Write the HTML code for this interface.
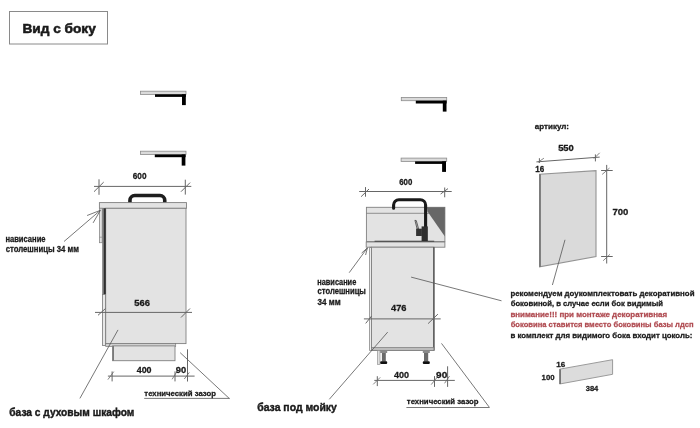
<!DOCTYPE html>
<html><head><meta charset="utf-8">
<style>
html,body{margin:0;padding:0;background:#fff;width:700px;height:428px;overflow:hidden}
svg{display:block;will-change:transform}
text{font-family:"Liberation Sans",sans-serif;font-weight:bold;fill:#1a1a1a;stroke:#1a1a1a;stroke-width:0.28}
.ln{stroke:#555;stroke-width:0.8;fill:none}
.dim{stroke:#666;stroke-width:1;fill:none}
.sl{stroke:#666;stroke-width:0.8;fill:none}
.box{fill:#e3e3e3;stroke:#808080;stroke-width:0.9}
.blk{fill:#000}
.red{fill:#b04c52;stroke:#b04c52}
.ttl{stroke-width:0.55}
.ttl2{stroke-width:0.4}
</style></head>
<body>
<svg width="700" height="428" viewBox="0 0 700 428">
<!-- title -->
<rect x="9.5" y="11.5" width="98" height="32.5" fill="#fff" stroke="#8a8a8a" stroke-width="1"/>

<!-- left shelves -->
<g id="shelf1">
<rect x="140.5" y="91.2" width="45.5" height="3.2" fill="#dadada" stroke="#8c8c8c" stroke-width="0.8"/>
<rect x="155" y="94.3" width="30.8" height="2.6" class="blk"/>
<rect x="182" y="94.3" width="3.8" height="10.8" class="blk"/>
</g>
<rect x="140.5" y="151.2" width="45.5" height="3.3" fill="#dadada" stroke="#8c8c8c" stroke-width="0.8"/>
<rect x="154.8" y="154.5" width="30.8" height="2.7" class="blk"/>
<rect x="181.7" y="154.5" width="3.7" height="11.1" class="blk"/>

<!-- middle shelves -->
<rect x="401.3" y="97.4" width="45.4" height="3.3" fill="#dadada" stroke="#8c8c8c" stroke-width="0.8"/>
<rect x="415.8" y="100.7" width="30.8" height="2.8" class="blk"/>
<rect x="442.8" y="100.7" width="3.7" height="10.9" class="blk"/>
<rect x="401.1" y="158.1" width="45.6" height="3.3" fill="#dadada" stroke="#8c8c8c" stroke-width="0.8"/>
<rect x="415.1" y="161.4" width="30.9" height="2.5" class="blk"/>
<rect x="442.1" y="161.4" width="3.9" height="10.5" class="blk"/>

<!-- ========== LEFT CABINET ========== -->
<!-- dim 600 -->
<line x1="94" y1="186.4" x2="191.3" y2="186.4" class="dim"/>
<line x1="99" y1="179.3" x2="99" y2="194.8" class="dim"/>
<line x1="94" y1="191.7" x2="103.7" y2="182.1" class="dim"/>
<line x1="185.3" y1="179.7" x2="185.3" y2="194.6" class="dim"/>
<line x1="181" y1="191.7" x2="190.1" y2="182.6" class="dim"/>
<!-- handle -->
<path d="M129.95,203 V200.3 A4.75,4.75 0 0 1 134.7,195.55 H160 A4.75,4.75 0 0 1 164.75,200.3 V203" fill="none" stroke="#1e1e1e" stroke-width="3.6"/>
<!-- countertop -->
<rect x="99.4" y="202.6" width="87.1" height="5.7" class="box"/>
<!-- front panel -->
<rect x="99.4" y="208.3" width="2.8" height="34.4" fill="#e2e2e2" stroke="#8a8a8a" stroke-width="0.8"/>
<line x1="99.4" y1="237.2" x2="102.2" y2="237.2" stroke="#8a8a8a" stroke-width="0.7"/>
<!-- body -->
<rect x="105.7" y="208.3" width="80.3" height="135.3" class="box"/>
<rect x="102.2" y="208.3" width="1.6" height="86.2" fill="#7a7a7a"/>
<rect x="103.7" y="208.3" width="2.1" height="86.2" fill="#2e2e2e"/>
<rect x="102.4" y="294.5" width="3.2" height="50.9" fill="#e8e8e8" stroke="#7a7a7a" stroke-width="0.8"/>
<!-- bottom strip and plinth -->
<rect x="105.7" y="343.6" width="70" height="2.8" fill="#d0d0d0" stroke="#7a7a7a" stroke-width="0.7"/>
<rect x="112.6" y="345.9" width="62.4" height="14.8" class="box"/>
<line x1="113.3" y1="346" x2="113.3" y2="360.7" stroke="#7a7a7a" stroke-width="1.4"/>
<!-- dim 566 -->
<line x1="95" y1="312.4" x2="192" y2="312.4" class="dim"/>
<line x1="98" y1="315.3" x2="105.5" y2="308.5" class="dim"/>
<line x1="181" y1="317.5" x2="190" y2="308.5" class="dim"/>
<!-- dim 400 90 -->
<line x1="107.9" y1="376.1" x2="194.6" y2="376.1" class="dim"/>
<line x1="112.1" y1="371.4" x2="112.1" y2="381.4" class="dim"/>
<line x1="107.9" y1="379.6" x2="113.8" y2="371.6" class="sl"/>
<line x1="175" y1="371.4" x2="175" y2="381.4" class="dim"/>
<line x1="172.1" y1="379.3" x2="176.6" y2="372.1" class="sl"/>
<line x1="187.5" y1="349.3" x2="187.5" y2="381.5" class="dim"/>
<line x1="184.3" y1="379" x2="189.3" y2="372.4" class="sl"/>
<!-- tech gap -->
<line x1="180.2" y1="352.7" x2="229.2" y2="398.4" class="ln"/>
<line x1="144.2" y1="398.4" x2="229.8" y2="398.4" class="ln"/>
<!-- overhang leader -->
<line x1="64" y1="241.5" x2="100.4" y2="210.3" class="ln"/>
<line x1="87.1" y1="215.5" x2="100.4" y2="210.3" class="ln"/>
<line x1="93.1" y1="222.9" x2="100.4" y2="210.3" class="ln"/>
<!-- base leader -->
<line x1="79.9" y1="398.4" x2="118" y2="329.9" class="ln"/>

<!-- ========== MIDDLE CABINET ========== -->
<!-- dim 600 -->
<line x1="359.2" y1="191.5" x2="451.7" y2="191.5" class="dim"/>
<line x1="365.5" y1="187.1" x2="365.5" y2="196.7" class="dim"/>
<line x1="361.1" y1="196.7" x2="369" y2="189" class="dim"/>
<line x1="444.7" y1="187.5" x2="444.7" y2="197.3" class="dim"/>
<line x1="440.6" y1="194" x2="448" y2="188.6" class="dim"/>
<!-- upper box (sink/backsplash) -->
<rect x="366.4" y="207.3" width="78.5" height="34.2" class="box"/>
<line x1="366.4" y1="213.3" x2="444.9" y2="213.3" stroke="#7a7a7a" stroke-width="0.8"/>
<polygon points="427,207.3 444.9,207.3 444.9,236.5 427.5,211.5" fill="#676767"/>
<!-- faucet -->
<path d="M393.6,208.2 V205 A5.3,5.3 0 0 1 398.9,199.7 H420.3 A5.3,5.3 0 0 1 425.6,205 V241" fill="none" stroke="#1a1a1a" stroke-width="3.1" stroke-linecap="round"/>
<path d="M414.9,220.3 L416.3,220.6 L418.6,228.8 L417.2,229.2 Z" fill="#bdbdbd" stroke="#333" stroke-width="0.7"/>
<rect x="421.6" y="226.4" width="6.2" height="14.6" fill="#2e2e2e"/>
<rect x="416.1" y="228.7" width="5.8" height="7.3" fill="#333"/>
<!-- sink bottom line -->
<line x1="374.6" y1="241.4" x2="434.2" y2="241.4" stroke="#333" stroke-width="1.2"/>
<!-- countertop -->
<rect x="366.2" y="242" width="78.7" height="5.2" class="box"/>
<!-- side strip -->
<rect x="369.6" y="247.2" width="1.9" height="103.3" fill="#ececec" stroke="#8a8a8a" stroke-width="0.8"/>
<!-- body -->
<rect x="371.5" y="247.2" width="62.4" height="103.3" class="box"/>
<line x1="433.9" y1="247.2" x2="433.9" y2="350.5" stroke="#444" stroke-width="1.2"/>
<rect x="371.5" y="347.5" width="62.4" height="3" fill="#bdbdbd" stroke="#7a7a7a" stroke-width="0.7"/>
<!-- legs -->
<rect x="377.3" y="350.5" width="2.7" height="14" fill="#e0e0e0" stroke="#888" stroke-width="0.6"/>
<rect x="380.2" y="350.5" width="7" height="2.5" fill="#8a8a8a"/>
<rect x="381.9" y="353" width="3.9" height="8.6" fill="#6a6a6a"/>
<rect x="380.2" y="361.3" width="7" height="2.7" rx="1" fill="#111"/>
<rect x="422.8" y="350.5" width="7" height="2.5" fill="#8a8a8a"/>
<rect x="424" y="353" width="4.2" height="8.6" fill="#6a6a6a"/>
<rect x="422.8" y="361.3" width="7" height="2.7" rx="1" fill="#111"/>
<!-- dim 476 -->
<line x1="363.9" y1="318.9" x2="440.7" y2="318.9" class="dim"/>
<line x1="365.7" y1="323.4" x2="371.6" y2="316" class="dim"/>
<line x1="428.1" y1="323.6" x2="437.9" y2="314.1" class="dim"/>
<!-- dim 400 90 -->
<line x1="374.3" y1="380.4" x2="454.8" y2="380.4" class="dim"/>
<line x1="377.3" y1="376.2" x2="377.3" y2="386.1" class="dim"/>
<line x1="373.2" y1="384.4" x2="380.2" y2="377.4" class="sl"/>
<line x1="434.5" y1="376.1" x2="434.5" y2="386.9" class="dim"/>
<line x1="431.2" y1="384.6" x2="436.8" y2="377.7" class="sl"/>
<line x1="447.6" y1="366.3" x2="447.6" y2="386.9" class="dim"/>
<line x1="444.6" y1="383.3" x2="449.5" y2="376.1" class="sl"/>
<!-- tech gap -->
<line x1="441.5" y1="343.4" x2="489.5" y2="407.5" class="ln"/>
<line x1="406.4" y1="407.5" x2="489.3" y2="407.5" class="ln"/>
<!-- overhang leader -->
<line x1="349.2" y1="272.7" x2="367.4" y2="247.9" class="ln"/>
<line x1="361.6" y1="253.1" x2="367.4" y2="247.9" class="ln"/>
<line x1="365.6" y1="255" x2="367.4" y2="247.9" class="ln"/>
<!-- base leader -->
<line x1="329.3" y1="399.3" x2="387.7" y2="332.1" class="ln"/>
<!-- long leader -->
<line x1="411.1" y1="277.1" x2="501.5" y2="300.8" class="ln"/>

<!-- ========== RIGHT ========== -->
<line x1="536.4" y1="161.9" x2="599.7" y2="157.1" class="dim"/>
<line x1="539.4" y1="158.2" x2="539.4" y2="163" class="dim"/>
<line x1="538.2" y1="162.2" x2="543.9" y2="158.2" class="sl"/>
<line x1="595.4" y1="154.4" x2="595.4" y2="161.4" class="dim"/>
<line x1="593.8" y1="158.7" x2="599.7" y2="152.8" class="sl"/>
<polygon points="539.6,174.3 596,170.7 596,256.5 539.6,266.8" fill="#dadada" stroke="#949494" stroke-width="1.1"/>
<line x1="540.1" y1="174.3" x2="540.1" y2="266.8" stroke="#666" stroke-width="1.3"/>
<line x1="606.7" y1="164.9" x2="606.7" y2="263.5" class="dim"/>
<line x1="601.1" y1="170.5" x2="612.7" y2="170.5" class="dim"/>
<line x1="602.2" y1="174.4" x2="609.5" y2="168.1" class="sl"/>
<line x1="601.1" y1="256.5" x2="612.7" y2="256.5" class="dim"/>
<line x1="603.2" y1="260.7" x2="609.9" y2="254.4" class="sl"/>
<line x1="552.4" y1="285" x2="565" y2="239.8" class="ln"/>
<!-- text block -->
<!-- plinth -->
<polygon points="559.6,369.2 612.6,359.7 612.6,374.3 559.6,384" fill="#dcdcdc" stroke="#9a9a9a" stroke-width="1"/>
<line x1="560.2" y1="369.2" x2="560.2" y2="384" stroke="#777" stroke-width="1.6"/>

<!-- texts -->
<text x="22.40" y="32.70" font-size="13.1" textLength="73.40" lengthAdjust="spacingAndGlyphs" class="ttl">Вид с боку</text>
<text x="132.75" y="178.60" font-size="8.6" textLength="13.70" lengthAdjust="spacingAndGlyphs">600</text>
<text x="134.25" y="305.80" font-size="8.6" textLength="15.60" lengthAdjust="spacingAndGlyphs">566</text>
<text x="136.70" y="373.00" font-size="8.6" textLength="14.85" lengthAdjust="spacingAndGlyphs">400</text>
<text x="175.85" y="373.00" font-size="8.6" textLength="10.40" lengthAdjust="spacingAndGlyphs">90</text>
<text x="144.35" y="395.50" font-size="8.1" textLength="71.60" lengthAdjust="spacingAndGlyphs">технический зазор</text>
<text x="5.40" y="242.30" font-size="8.5" textLength="40.15" lengthAdjust="spacingAndGlyphs">нависание</text>
<text x="5.65" y="252.40" font-size="8.5" textLength="73.25" lengthAdjust="spacingAndGlyphs">столешницы 34 мм</text>
<text x="9.30" y="415.60" font-size="10.3" textLength="125.05" lengthAdjust="spacingAndGlyphs" class="ttl2">база с духовым шкафом</text>
<text x="399.25" y="184.70" font-size="8.6" textLength="13.10" lengthAdjust="spacingAndGlyphs">600</text>
<text x="391.00" y="310.70" font-size="8.6" textLength="15.45" lengthAdjust="spacingAndGlyphs">476</text>
<text x="393.90" y="377.60" font-size="8.6" textLength="15.05" lengthAdjust="spacingAndGlyphs">400</text>
<text x="436.05" y="377.60" font-size="8.6" textLength="11.20" lengthAdjust="spacingAndGlyphs">90</text>
<text x="406.85" y="404.30" font-size="8.1" textLength="71.70" lengthAdjust="spacingAndGlyphs">технический зазор</text>
<text x="317.30" y="284.90" font-size="8.5" textLength="38.95" lengthAdjust="spacingAndGlyphs">нависание</text>
<text x="317.55" y="294.40" font-size="8.5" textLength="48.35" lengthAdjust="spacingAndGlyphs">столешницы</text>
<text x="317.55" y="304.50" font-size="8.5" textLength="23.15" lengthAdjust="spacingAndGlyphs">34 мм</text>
<text x="257.20" y="411.00" font-size="10.3" textLength="79.70" lengthAdjust="spacingAndGlyphs" class="ttl2">база под мойку</text>
<text x="534.85" y="128.90" font-size="7.8" textLength="34.20" lengthAdjust="spacingAndGlyphs">артикул:</text>
<text x="558.15" y="150.90" font-size="8.6" textLength="15.70" lengthAdjust="spacingAndGlyphs">550</text>
<text x="535.30" y="171.70" font-size="8.6" textLength="8.95" lengthAdjust="spacingAndGlyphs">16</text>
<text x="612.40" y="214.70" font-size="8.6" textLength="15.95" lengthAdjust="spacingAndGlyphs">700</text>
<text x="510.40" y="296.30" font-size="8.1" textLength="184.10" lengthAdjust="spacingAndGlyphs">рекомендуем доукомплектовать декоративной</text>
<text x="510.65" y="305.90" font-size="8.1" textLength="152.25" lengthAdjust="spacingAndGlyphs">боковиной, в случае если бок видимый</text>
<text x="510.40" y="316.90" font-size="8.1" textLength="156.70" lengthAdjust="spacingAndGlyphs" class="red">внимание!!! при монтаже декоративная</text>
<text x="510.65" y="327.00" font-size="8.1" textLength="182.85" lengthAdjust="spacingAndGlyphs" class="red">боковина ставится вместо боковины базы лдсп</text>
<text x="510.40" y="337.70" font-size="8.1" textLength="181.95" lengthAdjust="spacingAndGlyphs">в комплект для видимого бока входит цоколь:</text>
<text x="556.20" y="367.30" font-size="7.9" textLength="9.05" lengthAdjust="spacingAndGlyphs">16</text>
<text x="541.60" y="380.40" font-size="7.9" textLength="12.95" lengthAdjust="spacingAndGlyphs">100</text>
<text x="585.75" y="390.70" font-size="7.9" textLength="12.55" lengthAdjust="spacingAndGlyphs">384</text>
</svg>
</body></html>
